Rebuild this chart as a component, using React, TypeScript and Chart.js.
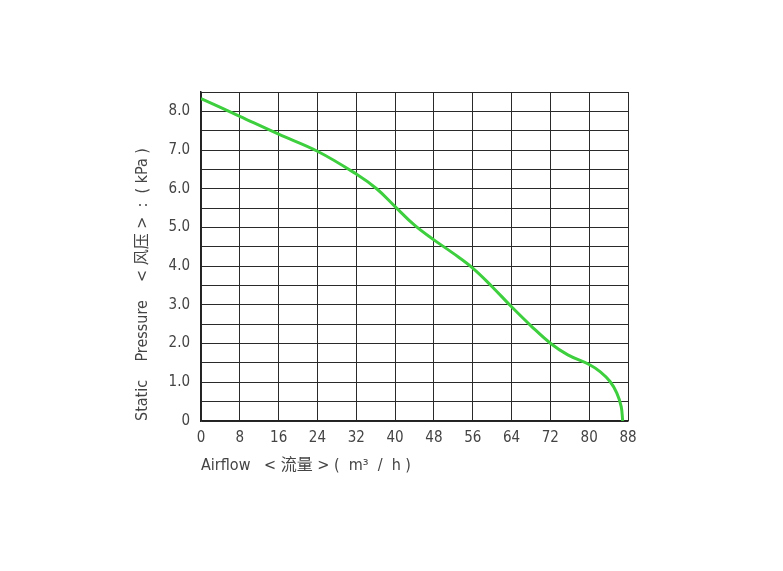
import React, { useEffect, useRef } from "react";
import { Chart, registerables } from "chart.js";

Chart.register(...registerables);

const airflow = [0, 8, 16, 24, 32, 36.2, 40, 44, 48, 52, 56, 60, 64, 68, 72, 75.6, 80, 82.3, 84.3, 85.7, 86.6, 86.9];
const pressure = [8.33, 7.87, 7.41, 6.97, 6.38, 6.0, 5.54, 5.06, 4.68, 4.33, 3.95, 3.47, 2.95, 2.46, 2.01, 1.71, 1.46, 1.27, 1.02, 0.72, 0.37, 0];
const xTicks = [0, 8, 16, 24, 32, 40, 48, 56, 64, 72, 80, 88];
const yTickLabels = ["0", "1.0", "2.0", "3.0", "4.0", "5.0", "6.0", "7.0", "8.0"];
const xTitle = "Airflow   < 流量 > (  m³  /  h )";
const yTitle = "Static    Pressure    < 风压 >  :  ( kPa )";

const FONT = "'DejaVu Sans Condensed', 'Liberation Sans Narrow', 'Noto Sans CJK SC', sans-serif";

export default function App() {
  const ref = useRef<HTMLCanvasElement | null>(null);
  useEffect(() => {
    if (!ref.current) return;
    const chart = new Chart(ref.current, {
      type: "line",
      data: {
        datasets: [
          {
            data: airflow.map((x, i) => ({ x, y: pressure[i] })),
            borderColor: "#3ecf3e",
            borderWidth: 3,
            pointRadius: 0,
            tension: 0.4,
            fill: false,
          },
        ],
      },
      options: {
        responsive: false,
        animation: false,
        layout: { padding: { left: 130, right: 155, top: 92, bottom: 92 } },
        plugins: { legend: { display: false }, tooltip: { enabled: false } },
        scales: {
          x: {
            type: "linear",
            min: 0,
            max: 88,
            afterBuildTicks: (scale: any) => {
              scale.ticks = xTicks.map((v) => ({ value: v }));
            },
            afterFit: (scale: any) => {
              scale.height = 58;
            },
            grid: { color: "#2a2a2a", lineWidth: 1, drawTicks: false },
            border: { color: "#222", width: 1.5 },
            ticks: {
              padding: 8,
              color: "#444",
              font: { family: FONT, size: 15 },
              maxRotation: 0,
              autoSkip: false,
            },
            title: {
              display: true,
              text: xTitle,
              align: "start",
              color: "#444",
              font: { family: FONT, size: 16 },
              padding: { top: 4, bottom: 4 },
            },
          },
          y: {
            type: "linear",
            min: 0,
            max: 8.5,
            afterFit: (scale: any) => {
              scale.width = 71;
            },
            grid: { color: "#2a2a2a", lineWidth: 1, drawTicks: false },
            border: { color: "#222", width: 1.5 },
            ticks: {
              stepSize: 0.5,
              padding: 11,
              color: "#444",
              autoSkip: false,
              font: { family: FONT, size: 15 },
              callback: (v: any) => {
                const n = Number(v);
                if (Math.abs(n - Math.round(n)) > 1e-6) return "";
                return yTickLabels[Math.round(n)] ?? "";
              },
            },
            title: {
              display: true,
              text: yTitle,
              align: "start",
              color: "#444",
              font: { family: FONT, size: 16 },
              padding: { top: 3, bottom: 4 },
            },
          },
        },
      },
    } as any);
    return () => chart.destroy();
  }, []);
  return (
    <div style={{ position: "fixed", left: 0, top: 0, width: 783, height: 571, background: "#fff" }}>
      <canvas ref={ref} width={783} height={571} style={{ display: "block" }} />
    </div>
  );
}
